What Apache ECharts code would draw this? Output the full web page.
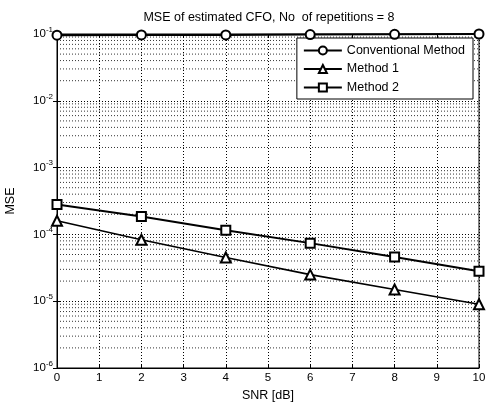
<!DOCTYPE html>
<html>
<head>
<meta charset="utf-8">
<script src="https://cdn.jsdelivr.net/npm/echarts@6/dist/echarts.min.js"></script>
<style>
  html, body { margin: 0; padding: 0; background: #fff; }
  #chart { width: 488px; height: 404px; }
</style>
</head>
<body>
<div id="chart"></div>
<script>
// data
const snr = [0, 2, 4, 6, 8, 10];
const conventional = [0.096, 0.097, 0.097, 0.098, 0.099, 0.1];
const method1 = [1.6e-4, 8.3e-5, 4.5e-5, 2.5e-5, 1.5e-5, 9.0e-6];
const method2 = [2.8e-4, 1.85e-4, 1.15e-4, 7.4e-5, 4.6e-5, 2.8e-5];
const decades = [1e-6, 1e-5, 1e-4, 1e-3, 1e-2];

const font = 'Liberation Sans, Arial, sans-serif';
const dotted = { color: '#000', type: [1, 2], width: 1 };

const pairs = (ys) => snr.map((x, i) => [x, ys[i]]);

// minor grid lines 2..9 in each decade, each drawn as its own silent series
let minorSeries = [];
decades.forEach((d) => {
  for (let k = 2; k <= 9; k++) {
    minorSeries.push({
      type: 'line',
      silent: true,
      symbol: 'none',
      data: [[0, d * k], [10, d * k]],
      lineStyle: Object.assign({ opacity: 0.8 }, dotted),
      z: 1,
    });
  }
});

const chart = echarts.init(document.getElementById('chart'));
const option = {
  animation: false,
  backgroundColor: '#fff',
  title: {
    text: 'MSE of estimated CFO, No  of repetitions = 8',
    left: 264,
    textAlign: 'center',
    top: 6,
    textStyle: { fontFamily: font, fontSize: 12.5, fontWeight: 'normal', color: '#000' },
  },
  grid: {
    left: 57,
    right: 9,
    top: 34,
    bottom: 36,
    containLabel: false,
    outerBoundsMode: 'none',
    show: true,
    borderColor: '#000',
    borderWidth: 1,
  },
  legend: {
    orient: 'vertical',
    right: 15,
    top: 38,
    itemWidth: 38,
    itemHeight: 10,
    itemGap: 5.5,
    padding: [6, 8, 5, 6],
    backgroundColor: '#fff',
    borderColor: '#000',
    borderWidth: 1,
    textStyle: { fontFamily: font, fontSize: 12.5, color: '#000' },
    data: ['Conventional Method', 'Method 1', 'Method 2'],
  },
  xAxis: [
    {
      type: 'value',
      min: 0,
      max: 10,
      interval: 1,
      name: 'SNR [dB]',
      nameLocation: 'middle',
      nameGap: 18,
      nameTextStyle: { fontFamily: font, fontSize: 12.5, color: '#000', verticalAlign: 'top' },
      axisLine: { lineStyle: { color: '#000' } },
      axisTick: { inside: true, length: 4, lineStyle: { color: '#000' } },
      axisLabel: { fontFamily: font, fontSize: 11.5, color: '#000', margin: 4 },
      splitLine: { show: true, lineStyle: dotted },
    },
    {
      type: 'value',
      min: 0,
      max: 10,
      interval: 1,
      position: 'top',
      axisLine: { lineStyle: { color: '#000' } },
      axisTick: { inside: true, length: 4, lineStyle: { color: '#000' } },
      axisLabel: { show: false },
      splitLine: { show: false },
    },
  ],
  yAxis: [
    {
      type: 'log',
      logBase: 10,
      min: 1e-6,
      max: 1e-1,
      interval: 1,
      name: 'MSE',
      nameLocation: 'middle',
      nameGap: 40,
      nameRotate: 90,
      nameTextStyle: { fontFamily: font, fontSize: 12.5, color: '#000' },
      axisLine: { lineStyle: { color: '#000' } },
      axisTick: { inside: true, length: 4, lineStyle: { color: '#000' } },
      axisLabel: {
        fontFamily: font,
        color: '#000',
        margin: 4,
        formatter: (v) => '{b|10}{s|' + Math.round(Math.log10(v)) + '}',
        rich: {
          b: { fontFamily: font, fontSize: 11.5, color: '#000' },
          s: { fontFamily: font, fontSize: 8, color: '#000', padding: [0, 0, 9, 0] },
        },
      },
      splitLine: { show: true, lineStyle: dotted },
    },
    {
      type: 'log',
      logBase: 10,
      min: 1e-6,
      max: 1e-1,
      interval: 1,
      position: 'right',
      axisLine: { lineStyle: { color: '#000' } },
      axisTick: { inside: true, length: 4, lineStyle: { color: '#000' } },
      axisLabel: { show: false },
      splitLine: { show: false },
    },
  ],
  series: [
    {
      name: 'Conventional Method',
      type: 'line',
      data: pairs(conventional),
      symbol: 'emptyCircle',
      symbolSize: 9,
      lineStyle: { color: '#000', width: 2 },
      itemStyle: { color: '#000', borderWidth: 2 },
      z: 5,
    },
    {
      name: 'Method 1',
      type: 'line',
      data: pairs(method1),
      symbol: 'emptyTriangle',
      symbolSize: 10,
      lineStyle: { color: '#000', width: 1.6 },
      itemStyle: { color: '#000', borderWidth: 1.6 },
      z: 5,
    },
    {
      name: 'Method 2',
      type: 'line',
      data: pairs(method2),
      symbol: 'emptyRect',
      symbolSize: 9,
      lineStyle: { color: '#000', width: 2 },
      itemStyle: { color: '#000', borderWidth: 2 },
      z: 5,
    },
  ].concat(minorSeries),
};
chart.setOption(option);
</script>
</body>
</html>
